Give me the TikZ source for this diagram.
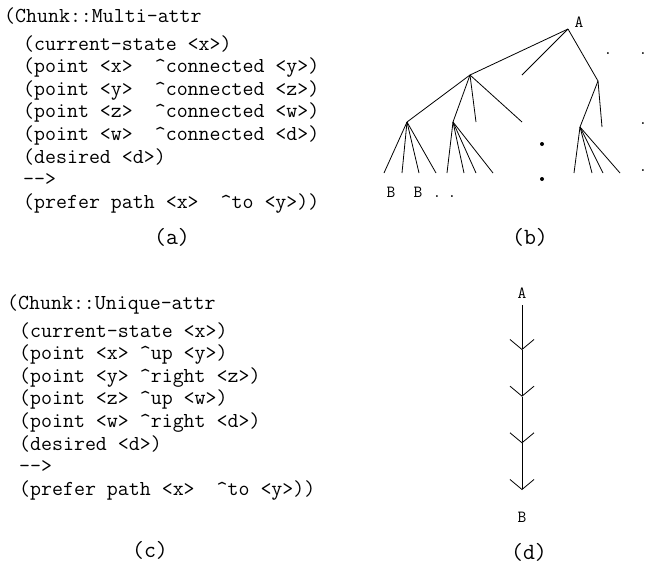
\documentclass[tikz,border=0pt]{standalone}
\usepackage{fontspec}
\usetikzlibrary{arrows.meta}
\newcommand\crt{\textasciicircum}
\newcommand\dsh{-\kern0pt-\kern0pt>}
\begin{document}
\begin{tikzpicture}[x=1pt,y=-1pt,
  code/.style={font=\ttfamily\fontsize{21.3}{24}\selectfont, inner sep=0pt, anchor=base west},
  sublabel/.style={font=\ttfamily\fontsize{23.2}{27}\selectfont, inner sep=0pt},
  lbl/.style={font=\ttfamily\fontsize{17}{20}\selectfont, inner sep=0pt},
  edge/.style={line width=0.8pt},
  vee/.style={line width=0.8pt, -{Straight Barb[length=10pt,width=24pt]}},
  ]
\useasboundingbox (0,0) rectangle (646,566);

% (a) code
\node[code] (a0) at (4,22) {(Chunk::Multi-attr};
\node[code] (a1) at (23,50) {(current-state <x>)};
\node[code] (a2) at (23,72.6) {(point <x>\ \ \crt{}connected <y>)};
\node[code] (a3) at (23,95.2) {(point <y>\ \ \crt{}connected <z>)};
\node[code] (a4) at (23,117.8) {(point <z>\ \ \crt{}connected <w>)};
\node[code] (a5) at (23,140.4) {(point <w>\ \ \crt{}connected <d>)};
\node[code] (a6) at (23,163) {(desired <d>)};
\node[code] (a7) at (23,185.6) {\dsh};
\node[code] (a8) at (23,208.2) {(prefer path <x>\ \ \crt{}to <y>))};
\node[sublabel] (la) at (172,237) {(a)};

% (c) code
\node[code] (c0) at (7,309) {(Chunk::Unique-attr};
\node[code] (c1) at (19,337) {(current-state <x>)};
\node[code] (c2) at (19,359.6) {(point <x> \crt{}up <y>)};
\node[code] (c3) at (19,382.2) {(point <y> \crt{}right <z>)};
\node[code] (c4) at (19,404.8) {(point <z> \crt{}up <w>)};
\node[code] (c5) at (19,427.4) {(point <w> \crt{}right <d>)};
\node[code] (c6) at (19,450) {(desired <d>)};
\node[code] (c7) at (19,472.6) {\dsh};
\node[code] (c8) at (19,495.2) {(prefer path <x>\ \ \crt{}to <y>))};
\node[sublabel] (lc) at (150,550) {(c)};

% (b) tree
\coordinate (r) at (568,29);
\coordinate (l1) at (470,75);
\coordinate (m1) at (522,75);
\coordinate (r1) at (598,81);
\coordinate (ll) at (407,122);
\coordinate (lm) at (453,122);
\coordinate (s1) at (476,122);
\coordinate (s2) at (522,122);
\coordinate (rl) at (580,127);
\coordinate (s3) at (602,127);
\draw[edge] (r) -- (l1);
\draw[edge] (r) -- (m1);
\draw[edge] (r) -- (r1);
\draw[edge] (l1) -- (ll);
\draw[edge] (l1) -- (lm);
\draw[edge] (l1) -- (s1);
\draw[edge] (l1) -- (s2);
\draw[edge] (r1) -- (rl);
\draw[edge] (r1) -- (s3);
\foreach \x in {384,402,419,436} \draw[edge] (ll) -- (\x,173);
\foreach \x in {447,464,476,493} \draw[edge] (lm) -- (\x,173);
\foreach \x in {574,592,603,620} \draw[edge] (rl) -- (\x,173);
\fill (542,144) circle (2);
\fill (542,179) circle (2);
\node[lbl] (A) at (579,22) {A};
\node[lbl] (B1) at (391,192) {B};
\node[lbl] (B2) at (418,192) {B};
\node[lbl, anchor=base] (d1) at (437,197) {.};
\node[lbl, anchor=base] (d2) at (452,197) {.};
\node[lbl, anchor=base] (d3) at (608,54) {.};
\node[lbl, anchor=base] (d4) at (643,54) {.};
\node[lbl, anchor=base] (d5) at (643,124) {.};
\node[lbl, anchor=base] (d6) at (643,171) {.};
\node[sublabel] (lb) at (530,237) {(b)};

% (d) chain
\node[lbl] (dA) at (522,293) {A};
\node[lbl] (dB) at (522,517) {B};
\coordinate (t0) at (522,305);
\coordinate (t1) at (522,350);
\coordinate (t2) at (522,396.7);
\coordinate (t3) at (522,443.3);
\coordinate (t4) at (522,490);
\draw[vee] (t0) -- (t1);
\draw[vee] (t1) -- (t2);
\draw[vee] (t2) -- (t3);
\draw[vee] (t3) -- (t4);
\node[sublabel] (ld) at (529,552) {(d)};
\end{tikzpicture}
\end{document}
